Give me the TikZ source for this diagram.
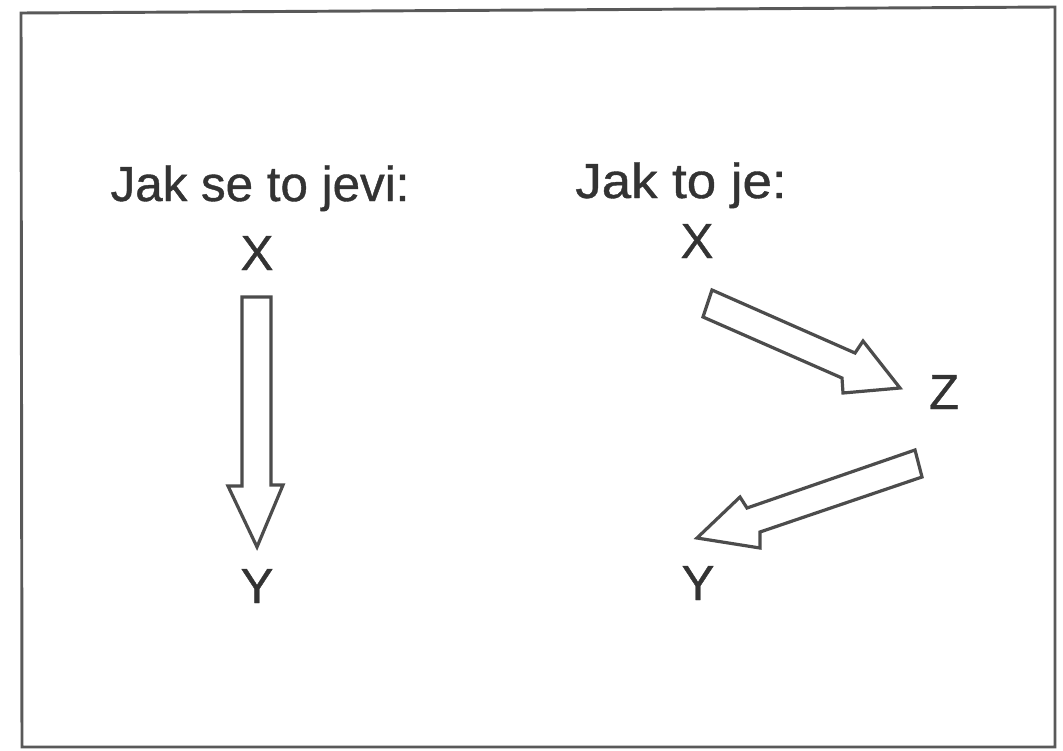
\documentclass[tikz,border=0pt]{standalone}
\usepackage{fontspec}
\setmainfont[FakeBold=0.8]{Liberation Sans}
\begin{document}
\begin{tikzpicture}[x=0.75pt,y=-0.75pt,
  lbl/.style={inner sep=0pt,anchor=base,text=black!80,font=\fontsize{37}{40}\selectfont},
  frame/.style={draw=black!65,line width=2.2pt},
  fatarrow/.style={draw=black!70,line width=2.4pt,line join=miter,fill=white}]
\useasboundingbox (0,0) rectangle (1063,750);
\draw[frame] (21,13) -- (1055,7) -- (1055,747) -- (22,747) -- cycle;
% labels
\node[lbl] (h1) at (260,201) {Jak se to jevi:};
\node[lbl,xscale=1.07] (h2) at (681,198) {Jak to je:};
\node[lbl] (xl) at (257,270) {X};
\node[lbl] (yl) at (257,603) {Y};
\node[lbl] (xr) at (697,258) {X};
\node[lbl] (z)  at (944,409) {Z};
\node[lbl] (yr) at (698,600) {Y};
% left arrow X -> Y
\draw[fatarrow] (242,297) -- (271,297) -- (271,485) -- (283,485) -- (257,547)
  -- (228,486) -- (242,486) -- cycle;
% right arrow X -> Z
\draw[fatarrow] (712,290) -- (855,353) -- (863,341) -- (900,388) -- (843,393)
  -- (842,378) -- (703,317) -- cycle;
% right arrow Z -> Y
\draw[fatarrow] (915,450) -- (922,477) -- (760,532) -- (760,548) -- (697,538)
  -- (740,497) -- (747,508) -- cycle;
\end{tikzpicture}
\end{document}
